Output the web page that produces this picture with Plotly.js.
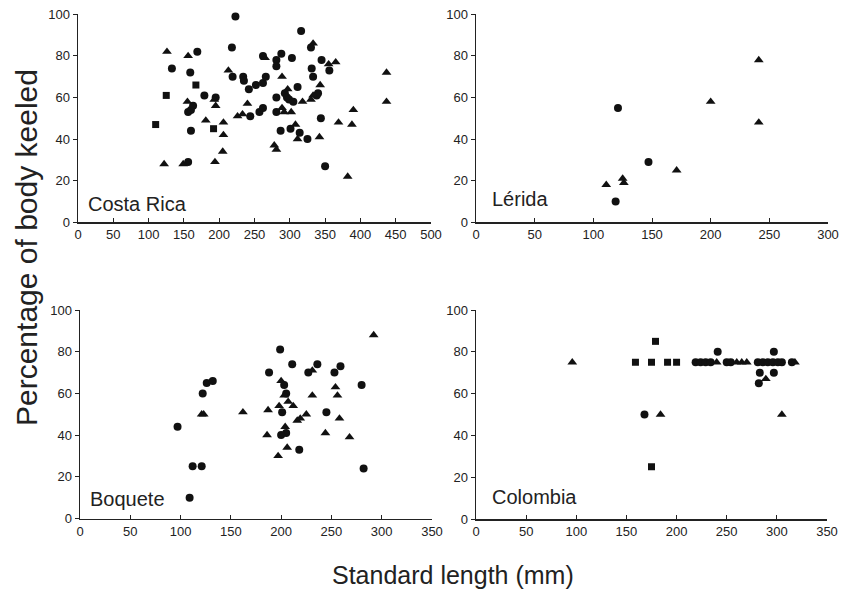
<!DOCTYPE html>
<html>
<head>
<meta charset="utf-8">
<script src="https://cdn.plot.ly/plotly-3.0.1.min.js"></script>
<style>html,body{margin:0;padding:0;background:#fff;}#chart{width:842px;height:590px;}</style>
</head>
<body>
<div id="chart"></div>
<script>
// ---- Costa Rica ----
const crCircleX = [223,169,133,159,218,219,234,235,242,179,195,156,160,163,244,160,156,252,262,266,262,281,281,288,303,316,330,345,356,331,333,311,281,293,296,299,305,338,340,257,262,281,344,287,301,314,325,350];
const crCircleY = [99,82,74,72,84,70,70,68,64,61,60,53,54,56,51,44,29,66,67,70,80,78,75,81,79,92,84,78,73,74,70,65,60,62,60,59,58,61,62,53,55,53,50,44,45,43,40,27];
const crTriX = [126,156,213,193,195,155,240,226,233,181,206,206,205,122,149,194,265,333,355,365,437,437,289,343,297,318,330,333,390,289,292,302,369,388,308,311,342,278,281,382];
const crTriY = [82,80,73,59,56,58,57,51,52,49,48,42,34,28,28,29,79,86,76,77,72,58,70,66,64,58,59,61,54,55,53,53,48,47,47,40,41,37,35,22];
const crSqX = [110,125,167,192];
const crSqY = [47,61,66,45];
// ---- Lérida ----
const leCircleX = [121,147,119];
const leCircleY = [55,29,10];
const leTriX = [241,200,241,171,125,126,111];
const leTriY = [78,58,48,25,21,19,18];
// ---- Boquete ----
const boCircleX = [97,109,112,121,122,126,132,188,199,211,236,227,259,253,203,280,205,201,245,205,200,218,282];
const boCircleY = [44,10,25,25,60,65,66,70,81,74,74,70,73,70,64,64,60,51,51,41,40,33,24];
const boTriX = [121,123,162,187,186,292,231,200,254,256,231,203,207,212,198,225,216,219,258,204,244,268,206,197];
const boTriY = [50,50,51,52,40,88,71,66,63,59,59,59,56,54,54,50,47,48,48,44,41,39,34,30];
// ---- Colombia ----
const coCircleX = [168,241,219,224,229,234,250,254,281,286,291,296,301,305,297,315,283,297,282];
const coCircleY = [50,80,75,75,75,75,75,75,75,75,75,75,75,75,80,75,70,70,65];
const coTriX = [96,184,305,240,260,265,270,318,289];
const coTriY = [75,50,50,75,75,75,75,75,67];
const coSqX = [159,175,179,191,200,175];
const coSqY = [75,75,85,75,75,25];

const panelNames = ["Costa Rica", "Lérida", "Boquete", "Colombia"];
const xTitle = "Standard length (mm)";
const yTitle = "Percentage of body keeled";

const INK = '#111';
function tr(x, y, sym, ax) {
  const sz = sym === 'square' ? 7 : (sym === 'triangle-up' ? 8.5 : 8);
  return {x: x, y: y, type: 'scatter', mode: 'markers', xaxis: 'x' + ax, yaxis: 'y' + ax,
    cliponaxis: false, hoverinfo: 'skip',
    marker: {symbol: sym, size: sz, color: INK, line: {width: 0}}};
}
const data = [
  tr(crCircleX, crCircleY, 'circle', ''), tr(crTriX, crTriY, 'triangle-up', ''), tr(crSqX, crSqY, 'square', ''),
  tr(leCircleX, leCircleY, 'circle', '2'), tr(leTriX, leTriY, 'triangle-up', '2'),
  tr(boCircleX, boCircleY, 'circle', '3'), tr(boTriX, boTriY, 'triangle-up', '3'),
  tr(coCircleX, coCircleY, 'circle', '4'), tr(coTriX, coTriY, 'triangle-up', '4'), tr(coSqX, coSqY, 'square', '4')
];
const W = 842, H = 590;
const FONT = 'Liberation Sans, Arial, Helvetica, sans-serif';
function xa(p0, p1, max, anchor) {
  return {domain: [p0 / W, p1 / W], range: [0, max], dtick: 50, tick0: 0, anchor: anchor,
    showline: true, linecolor: '#222', linewidth: 1.5, showgrid: false, zeroline: false,
    ticks: 'inside', ticklen: 4, tickcolor: '#222', tickwidth: 1,
    tickfont: {family: FONT, size: 13, color: '#222'}, fixedrange: true};
}
function ya(p0, p1, anchor) {
  return {domain: [1 - p0 / H, 1 - p1 / H], range: [0, 100], dtick: 20, tick0: 0, anchor: anchor,
    showline: true, linecolor: '#222', linewidth: 1.5, showgrid: false, zeroline: false,
    ticks: 'outside', ticklen: 4, tickcolor: '#222', tickwidth: 1,
    tickfont: {family: FONT, size: 13, color: '#222'}, fixedrange: true};
}
function lab(text, x, y, ax) {
  return {text: text, x: x, y: y, xref: 'x' + ax, yref: 'y' + ax, xanchor: 'left', yanchor: 'middle',
    showarrow: false, font: {family: FONT, size: 20, color: '#222'}};
}
const layout = {
  width: W, height: H, margin: {l: 0, r: 0, t: 0, b: 0}, showlegend: false,
  paper_bgcolor: '#fff', plot_bgcolor: '#fff',
  xaxis: xa(78, 431, 500, 'y'), yaxis: ya(222.3, 14.3, 'x'),
  xaxis2: xa(476, 828, 300, 'y2'), yaxis2: ya(222.3, 14.3, 'x2'),
  xaxis3: xa(80, 432, 350, 'y3'), yaxis3: ya(518.5, 310, 'x3'),
  xaxis4: xa(476, 827, 350, 'y4'), yaxis4: ya(519, 310, 'x4'),
  annotations: [
    lab(panelNames[0], 12, 9, ''), lab(panelNames[1], 12, 11, '2'),
    lab(panelNames[2], 8, 9.5, '3'), lab(panelNames[3], 14, 10.5, '4'),
    {text: xTitle, x: 453 / W, y: 1 - 575 / H, xref: 'paper', yref: 'paper', xanchor: 'center', yanchor: 'middle',
     showarrow: false, font: {family: FONT, size: 25, color: '#222'}},
    {text: yTitle, x: 26 / W, y: 1 - 248 / H, xref: 'paper', yref: 'paper', xanchor: 'center', yanchor: 'middle',
     textangle: -90, showarrow: false, font: {family: FONT, size: 30, color: '#222'}}
  ]
};
Plotly.newPlot('chart', data, layout, {displayModeBar: false, staticPlot: true});
</script>
</body>
</html>
